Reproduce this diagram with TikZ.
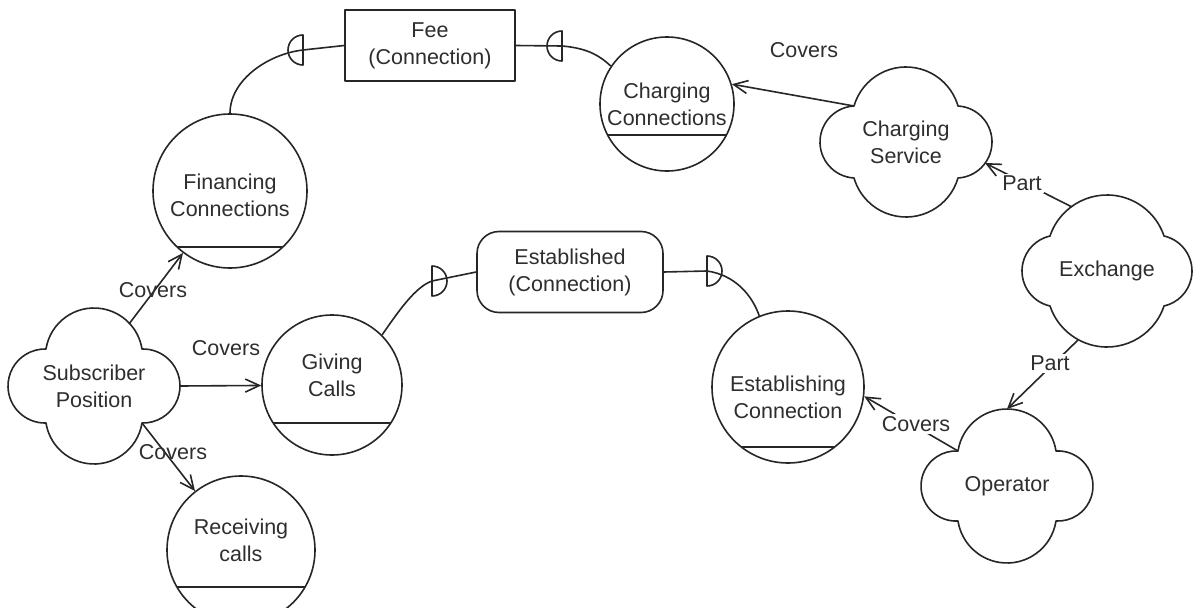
\documentclass[tikz,border=0pt]{standalone}
\usepackage{fontspec}
\setmainfont{Liberation Sans}
\usetikzlibrary{arrows.meta,calc}

% four-lobed outline around a node: #1 node, #2 half width, #3 half height,
% #4/#5 horizontal/vertical offset of the notches between the lobes
\newcommand\fourlobe[5]{%
  \pgfmathsetmacro\cldsT{#3-#5}%
  \pgfmathsetmacro\cldrT{(#4*#4+\cldsT*\cldsT)/(2*\cldsT)}%
  \pgfmathsetmacro\cldpT{atan2(#4,\cldrT-\cldsT)}%
  \pgfmathsetmacro\cldsS{#2-#4}%
  \pgfmathsetmacro\cldrS{(#5*#5+\cldsS*\cldsS)/(2*\cldsS)}%
  \pgfmathsetmacro\cldpS{atan2(#5,\cldrS-\cldsS)}%
  \pgfmathsetmacro\cldA{90+\cldpT}\pgfmathsetmacro\cldB{90-\cldpT}%
  \pgfmathsetmacro\cldC{-\cldpS}%
  \pgfmathsetmacro\cldD{-90+\cldpT}\pgfmathsetmacro\cldE{-90-\cldpT}%
  \pgfmathsetmacro\cldF{180+\cldpS}\pgfmathsetmacro\cldG{180-\cldpS}%
  \draw[ink, shift={(#1.center)}] (-#4pt,#5pt)
    arc[start angle=\cldA, end angle=\cldB, radius=\cldrT pt]
    arc[start angle=\cldpS, end angle=\cldC, radius=\cldrS pt]
    arc[start angle=\cldD, end angle=\cldE, radius=\cldrT pt]
    arc[start angle=\cldF, end angle=\cldG, radius=\cldrS pt]
    -- cycle;%
}

\begin{document}
\begin{tikzpicture}[x=1pt,y=-1pt,
  ink/.style={draw=black!85, line width=1.6pt, line join=round},
  txt/.style={text=black!82, font=\fontsize{21.5}{27}\selectfont, align=center, inner sep=0pt},
  masked/.style={txt, fill=white, inner sep=2pt},
  role/.style 2 args={circle, ink, inner sep=0pt, minimum size=#1pt,
    path picture={\draw[ink]
      ([xshift=-120pt,yshift=-#2pt]path picture bounding box.center) --
      ([xshift=120pt,yshift=-#2pt]path picture bounding box.center);}},
  classbox/.style={rectangle, ink, txt},
  rel/.style={ink, -{Straight Barb[length=14pt,width=13pt]}},
  halfL/.pic={\draw[ink] (0pt,15pt) arc[start angle=90, end angle=270, radius=15pt] -- cycle;},
  halfR/.pic={\draw[ink] (0pt,-15pt) arc[start angle=-90, end angle=90, radius=15pt] -- cycle;},
]
\useasboundingbox (0,0) rectangle (1195,608);
\fill[white] (0,0) rectangle (1195,608);

% roles (circles with a bar)
\node[role={154}{56}, label={[txt,yshift=-4pt]center:Financing\\Connections}] (fin) at (230,191) {};
\node[role={134}{31}, label={[txt]center:Charging\\Connections}] (chc) at (667,104) {};
\node[role={140}{38}, label={[txt,yshift=10pt]center:Giving\\Calls}] (giv) at (332,385) {};
\node[role={148}{37}, label={[txt,yshift=10pt]center:Receiving\\calls}] (rec) at (241,550) {};
\node[role={152}{60}, label={[txt,yshift=-10pt]center:Establishing\\Connection}] (ecn) at (788,387) {};

% objects
\node[classbox, minimum width=170pt, minimum height=71pt] (fee) at (430,45.5) {Fee\\(Connection)};
\node[classbox, rounded corners=22pt, minimum width=186pt, minimum height=81pt] (eb) at (570,272) {Established\\(Connection)};

% actors (four-lobed clouds)
\node[txt] (sub) at (94,386) {Subscriber\\Position};
\fourlobe{sub}{86}{78}{48}{37}
\node[txt] (chs) at (906,142) {Charging\\Service};
\fourlobe{chs}{86}{75}{52}{36}
\node[txt] (exc) at (1107,271) {Exchange};
\fourlobe{exc}{85}{76}{57}{35}
\node[txt] (ope) at (1007,486) {Operator};
\fourlobe{ope}{86}{77}{49}{35}

% attachment points on the cloud outlines
\coordinate (sub-n) at ($(sub)+(35,-62)$);
\coordinate (sub-e) at ($(sub)+(86,0)$);
\coordinate (sub-se) at ($(sub)+(48,37)$);
\coordinate (chs-nw) at ($(chs)+(-52,-36)$);
\coordinate (chs-e) at ($(chs)+(79,21)$);
\coordinate (exc-n) at ($(exc)+(-35,-64)$);
\coordinate (exc-s) at ($(exc)+(-29,69)$);
\coordinate (ope-n) at ($(ope)+(0,-77)$);
\coordinate (ope-nw) at ($(ope)+(-49,-35)$);

% relations
\draw[rel] (sub-n) -- (fin);
\draw[rel] (sub-e) -- (giv);
\draw[rel] (sub-se) -- (rec);
\draw[rel] (chs-nw) -- (chc.17);
\draw[rel] (exc-n) -- (chs-e);
\draw[rel] (exc-s) -- (ope-n);
\draw[rel] (ope-nw) -- (ecn.-7);

\node[txt] (lc1) at (153,290) {Covers};
\node[txt] (lc2) at (226,348) {Covers};
\node[txt] (lc3) at (173,452) {Covers};
\node[txt] (lc4) at (804,50) {Covers};
\node[masked] (lp1) at (1022,183) {Part};
\node[masked] (lp2) at (1050,363) {Part};
\node[masked] (lc5) at (916,424) {Covers};

% object links with half-disc markers
\coordinate (m1) at (303,50);
\coordinate (m2) at (562,46);
\coordinate (m3) at (432,281);
\coordinate (m4) at (707,271);
\draw[ink] (fee.west) -- (m1) .. controls (268,54) and (230,80) .. (fin.north);
\draw[ink] (fee.east) -- (m2) .. controls (585,48) and (598,54) .. (chc.146);
\draw[ink] (giv.45) .. controls (398,312) and (415,287) .. (m3) -- (eb.west);
\draw[ink] (eb.east) -- (m4) .. controls (735,275) and (752,295) .. (ecn.112);
\pic at (m1) {halfL};
\pic at (m2) {halfL};
\pic at (m3) {halfR};
\pic at (m4) {halfR};
\end{tikzpicture}
\end{document}
